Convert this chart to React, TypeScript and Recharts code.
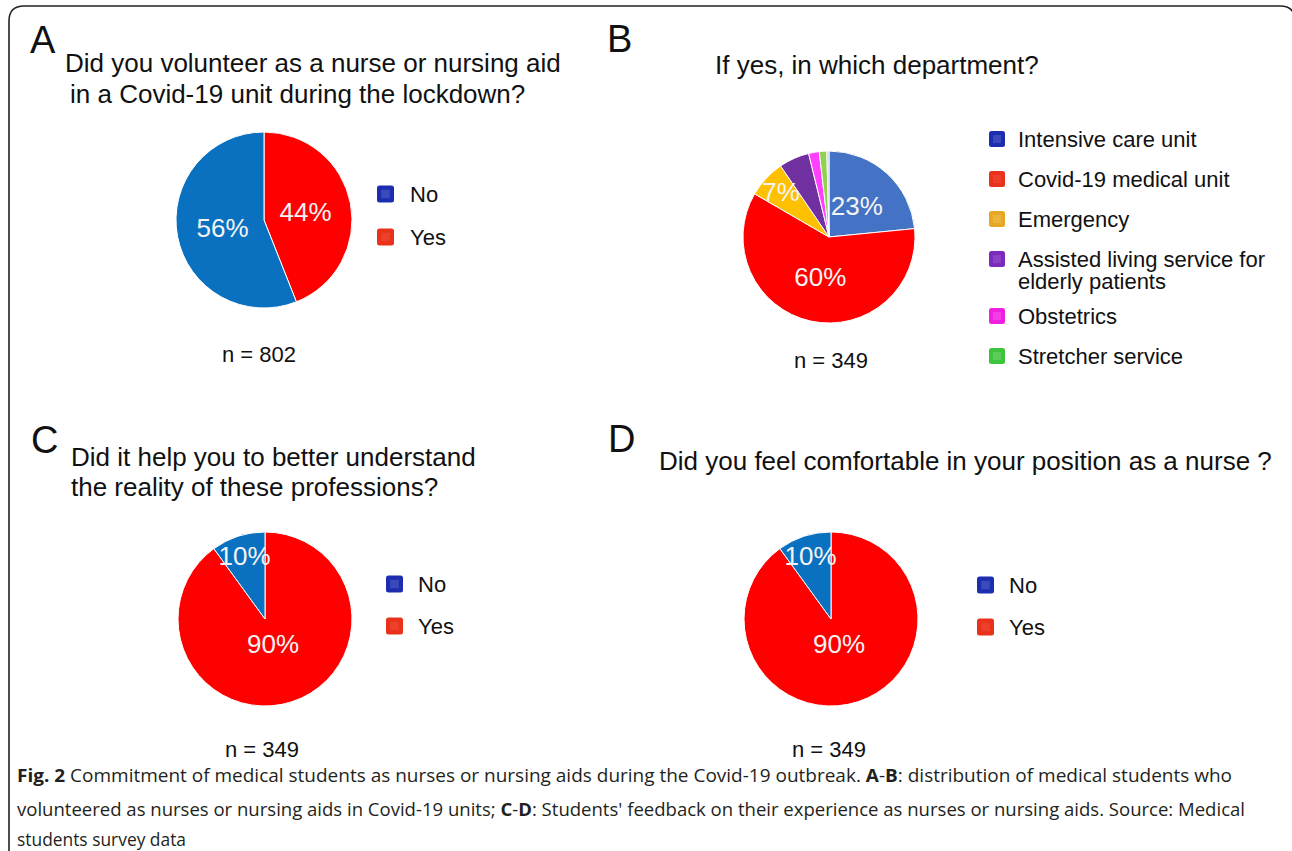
import React from "react";
import { PieChart, Pie, Cell } from "recharts";

const FONT = '"Liberation Sans", Arial, Helvetica, sans-serif';
const CAPTION_FONT = '"Open Sans", "Noto Sans", sans-serif';

// A: did you volunteer (clockwise from 12 o'clock: Yes, No)
const volunteerLabels = ["Yes", "No"];
const volunteerValues = [44, 56];

// B: department
const departmentLabels = [
  "Intensive care unit",
  "Covid-19 medical unit",
  "Emergency",
  "Assisted living service for elderly patients",
  "Obstetrics",
  "Stretcher service",
  "Other",
];
const departmentValues = [23.4, 59.8, 7.1, 5.7, 2.0, 1.4, 0.4];

// C / D
const understandLabels = ["Yes", "No"];
const understandValues = [90, 10];
const comfortLabels = ["Yes", "No"];
const comfortValues = [90, 10];

const legendYesNo = ["No", "Yes"];

const ynColors = { Yes: "#ff0000", No: "#0a70c0" };
const ynLegend = { No: ["#1c2db0", "#3b4abb"], Yes: ["#e8321c", "#ec4028"] };
const deptColors = ["#4472c4", "#ff0000", "#ffc000", "#7030a0", "#ff40ff", "#92d050", "#b4c7e7"];
const deptLegend = [
  ["#1c2db0", "#3b4abb"],
  ["#e8321c", "#ec4028"],
  ["#e6a823", "#ebb63e"],
  ["#7a2bbd", "#8b41c6"],
  ["#f01fe0", "#f23ee4"],
  ["#3cc43c", "#5ccb5c"],
];

const RAD = Math.PI / 180;

function pctLabel(props: any) {
  const { cx, cy, midAngle, outerRadius, percent } = props;
  if (percent < 0.065) return null;
  const f = percent > 0.8 ? 0.3 : percent > 0.15 ? 0.48 : 0.76;
  const r = outerRadius * f;
  const x = cx + r * Math.cos(-midAngle * RAD);
  const y = cy + r * Math.sin(-midAngle * RAD);
  return (
    <text
      x={x}
      y={y}
      fill="#f4f4f4"
      fontSize={26}
      fontFamily={FONT}
      textAnchor="middle"
      dominantBaseline="central"
    >
      {Math.round(percent * 100)}%
    </text>
  );
}

function PiePanel({ labels, values, colors, cx, cy, r }: any) {
  const data = labels.map((name: string, i: number) => ({ name, value: values[i] }));
  const size = 2 * r + 10;
  return (
    <div style={{ position: "absolute", left: cx - size / 2, top: cy - size / 2 }}>
      <PieChart width={size} height={size} margin={{ top: 0, right: 0, bottom: 0, left: 0 }}>
        <Pie
          data={data}
          dataKey="value"
          nameKey="name"
          cx={size / 2}
          cy={size / 2}
          outerRadius={r}
          startAngle={90}
          endAngle={-270}
          stroke="#ffffff"
          strokeWidth={1}
          labelLine={false}
          label={pctLabel}
          isAnimationActive={false}
        >
          {data.map((d: any, i: number) => (
            <Cell key={d.name} fill={colors[i]} />
          ))}
        </Pie>
      </PieChart>
    </div>
  );
}

function wrap(text: string, maxChars: number) {
  const words = text.split(" ");
  const lines: string[] = [];
  let cur = "";
  words.forEach((w) => {
    const next = cur ? cur + " " + w : w;
    if (next.length > maxChars && cur) {
      lines.push(cur);
      cur = w;
    } else cur = next;
  });
  if (cur) lines.push(cur);
  return lines;
}

function Legend({ items, colors, x, y, step, box, textX }: any) {
  let cy = y;
  return (
    <g>
      {items.map((label: string, i: number) => {
        const lines = wrap(label, 27);
        const yc = cy;
        cy += step + (lines.length - 1) * 17;
        const [outer, inner] = colors[i];
        return (
          <g key={label}>
            <rect x={x} y={yc - box / 2} width={box} height={box} rx={2.5} fill={outer} />
            <rect x={x + box * 0.25} y={yc - box * 0.25} width={box * 0.5} height={box * 0.5} fill={inner} />
            {lines.map((ln, k) => (
              <text key={k} x={textX} y={yc + 8 + k * 22} fontSize={22} fontFamily={FONT} fill="#111">
                {ln}
              </text>
            ))}
          </g>
        );
      })}
    </g>
  );
}

const T = (p: any) => <text fontFamily={FONT} fill="#111" {...p} />;

export default function App() {
  return (
    <div style={{ position: "relative", width: 1292, height: 851, background: "#fff", overflow: "hidden" }}>
      <style>{`body{margin:0}`}</style>
      <svg width={1292} height={851} style={{ position: "absolute", left: 0, top: 0 }}>
        <path
          d="M 9 900 V 21 Q 9 6 24 6 H 1280 Q 1295 6 1295 21 V 900"
          fill="none"
          stroke="#222"
          strokeWidth={1.6}
        />
        {/* panel letters */}
        <T x={30} y={53} fontSize={38}>A</T>
        <T x={607} y={52} fontSize={38}>B</T>
        <T x={31} y={453} fontSize={38}>C</T>
        <T x={608} y={452} fontSize={38}>D</T>

        {/* titles */}
        <T x={65} y={72} fontSize={26}>Did you volunteer as a nurse or nursing aid</T>
        <T x={70} y={103} fontSize={26}>in a Covid-19 unit during the lockdown?</T>
        <T x={715} y={74} fontSize={26}>If yes, in which department?</T>
        <T x={71} y={466} fontSize={26}>Did it help you to better understand</T>
        <T x={71} y={496} fontSize={26}>the reality of these professions?</T>
        <T x={659} y={470} fontSize={26}>Did you feel comfortable in your position as a nurse ?</T>

        {/* sample sizes */}
        <T x={259} y={362} fontSize={22} textAnchor="middle">n = 802</T>
        <T x={831} y={368} fontSize={22} textAnchor="middle">n = 349</T>
        <T x={262} y={757} fontSize={22} textAnchor="middle">n = 349</T>
        <T x={829} y={757} fontSize={22} textAnchor="middle">n = 349</T>

        {/* legends */}
        <Legend items={legendYesNo} colors={legendYesNo.map((k) => (ynLegend as any)[k])} x={377} y={194} step={43} box={17} textX={410} />
        <Legend items={departmentLabels.slice(0, 6)} colors={deptLegend} x={989} y={139} step={40} box={16} textX={1018} />
        <Legend items={legendYesNo} colors={legendYesNo.map((k) => (ynLegend as any)[k])} x={386} y={584} step={42} box={17} textX={418} />
        <Legend items={legendYesNo} colors={legendYesNo.map((k) => (ynLegend as any)[k])} x={977} y={585} step={42} box={17} textX={1009} />

        {/* caption */}
        <text x={17} y={782} fontSize={18.5} fontFamily={CAPTION_FONT} fill="#231f20" textLength={1215} lengthAdjust="spacingAndGlyphs">
          <tspan fontWeight="bold">Fig. 2</tspan> Commitment of medical students as nurses or nursing aids during the Covid-19 outbreak.{" "}
          <tspan fontWeight="bold">A</tspan>-<tspan fontWeight="bold">B</tspan>: distribution of medical students who
        </text>
        <text x={17} y={816} fontSize={18.5} fontFamily={CAPTION_FONT} fill="#231f20" textLength={1228} lengthAdjust="spacingAndGlyphs">
          volunteered as nurses or nursing aids in Covid-19 units; <tspan fontWeight="bold">C</tspan>-<tspan fontWeight="bold">D</tspan>: Students' feedback on their experience as nurses or nursing aids. Source: Medical
        </text>
        <text x={17} y={846} fontSize={18.5} fontFamily={CAPTION_FONT} fill="#231f20" textLength={169} lengthAdjust="spacingAndGlyphs">
          students survey data
        </text>
      </svg>

      <PiePanel labels={volunteerLabels} values={volunteerValues} colors={volunteerLabels.map((k) => (ynColors as any)[k])} cx={263.5} cy={219.5} r={88} />
      <PiePanel labels={departmentLabels} values={departmentValues} colors={deptColors} cx={829} cy={237} r={86} />
      <PiePanel labels={understandLabels} values={understandValues} colors={understandLabels.map((k) => (ynColors as any)[k])} cx={265} cy={619} r={87} />
      <PiePanel labels={comfortLabels} values={comfortValues} colors={comfortLabels.map((k) => (ynColors as any)[k])} cx={831} cy={619} r={87} />
    </div>
  );
}
